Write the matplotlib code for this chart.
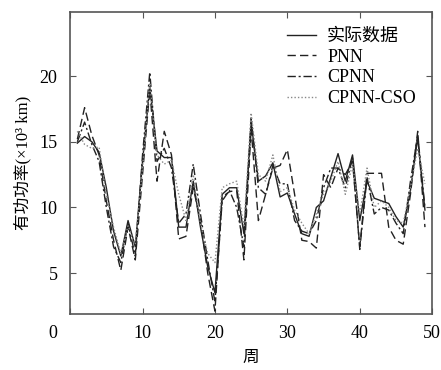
import numpy as np
import matplotlib
matplotlib.use('Agg')
import matplotlib.pyplot as plt
import matplotlib.transforms as mtransforms

plt.rcParams['font.family'] = ['Liberation Serif', 'Noto Sans CJK SC']

# weeks 1..49
weeks = list(range(1, 50))

actual = [14.9, 15.4, 15.0, 14.2, 11.5, 8.2, 6.3, 9.0, 7.0, 13.5,
          19.2, 14.3, 13.8, 13.8, 8.5, 8.5, 12.0, 8.5, 5.5, 3.5,
          11.0, 11.5, 11.5, 8.0, 16.5, 12.0, 12.4, 13.4, 10.8, 11.1,
          9.5, 8.0, 7.8, 10.0, 10.5, 12.3, 14.1, 12.0, 14.0, 9.0,
          12.0, 10.7, 10.5, 10.3, 9.3, 8.5, 11.3, 15.3, 9.8]

pnn = [15.2, 17.6, 15.5, 14.0, 10.5, 7.5, 5.2, 8.5, 6.0, 12.5,
       19.0, 12.0, 15.8, 14.0, 7.6, 7.8, 11.5, 9.0, 5.0, 2.1,
       10.8, 11.2, 11.3, 6.0, 16.0, 9.0, 11.0, 13.0, 13.2, 14.4,
       11.0, 7.5, 7.4, 6.9, 12.5, 11.5, 13.0, 12.5, 13.5, 7.0,
       12.6, 12.6, 12.6, 8.5, 7.5, 7.2, 11.0, 15.8, 8.5]

cpnn = [15.0, 16.5, 14.8, 13.5, 10.0, 7.0, 5.8, 8.8, 6.3, 14.0,
        20.3, 13.5, 14.5, 13.0, 8.8, 9.5, 13.3, 9.5, 6.0, 2.8,
        10.5, 11.3, 10.0, 7.0, 16.8, 11.5, 11.0, 13.2, 11.8, 11.8,
        9.0, 8.2, 8.0, 9.0, 11.5, 13.0, 13.0, 11.5, 13.8, 6.8,
        12.3, 9.5, 10.0, 9.8, 8.8, 8.0, 12.0, 15.5, 10.0]

cso = [15.8, 14.8, 14.5, 14.6, 11.0, 8.5, 6.5, 8.6, 7.2, 13.0,
       19.5, 14.0, 13.3, 13.6, 11.0, 9.0, 12.5, 8.8, 6.5, 5.8,
       11.5, 11.8, 12.0, 8.5, 17.2, 12.5, 12.0, 14.0, 11.2, 11.5,
       9.8, 8.8, 8.0, 9.5, 11.0, 12.0, 13.5, 11.0, 13.3, 9.5,
       13.0, 10.0, 10.5, 10.0, 9.0, 8.8, 11.5, 14.5, 11.8]

labels = ['实际数据', 'PNN', 'CPNN', 'CPNN-CSO']

fig = plt.figure(figsize=(4.41, 3.70), dpi=100)
ax = fig.add_axes([0.159, 0.152, 0.821, 0.816])

ax.plot(weeks, actual, color='#222222', lw=1.0, ls='-', label=labels[0])
ax.plot(weeks, pnn, color='#222222', lw=1.0, ls=(0, (6, 3)), label=labels[1])
ax.plot(weeks, cpnn, color='#222222', lw=1.0, ls=(0, (6, 2, 1.5, 2)), label=labels[2])
ax.plot(weeks, cso, color='#888888', lw=1.0, ls=(0, (1, 1.5)), label=labels[3])

ax.set_xlim(0, 50)
ax.set_ylim(1.9, 24.9)
ax.set_xticks([0, 10, 20, 30, 40, 50])
ax.set_yticks([5, 10, 15, 20])
ax.tick_params(direction='in', top=True, right=True, labelsize=13, length=4, color='#555555')
ax.tick_params(axis='x', pad=8)
ax.tick_params(axis='y', pad=9)
for s in ax.spines.values():
    s.set_color('#555555')
    s.set_linewidth(1.2)

# the "0" label sits left of the axis corner in the original
fig.canvas.draw()
lbl0 = ax.get_xticklabels()[0]
lbl0.set_transform(lbl0.get_transform() + mtransforms.ScaledTranslation(-0.17, 0, fig.dpi_scale_trans))

ax.set_xlabel('周', fontsize=12, labelpad=6)
ax.set_ylabel('有功功率(×10³ km)', fontsize=12, labelpad=6)

ax.legend(loc='upper right', frameon=False, fontsize=13, handlelength=1.6,
          handletextpad=0.6, labelspacing=0.2, borderaxespad=0.5)

fig.savefig('out.png', dpi=100)
